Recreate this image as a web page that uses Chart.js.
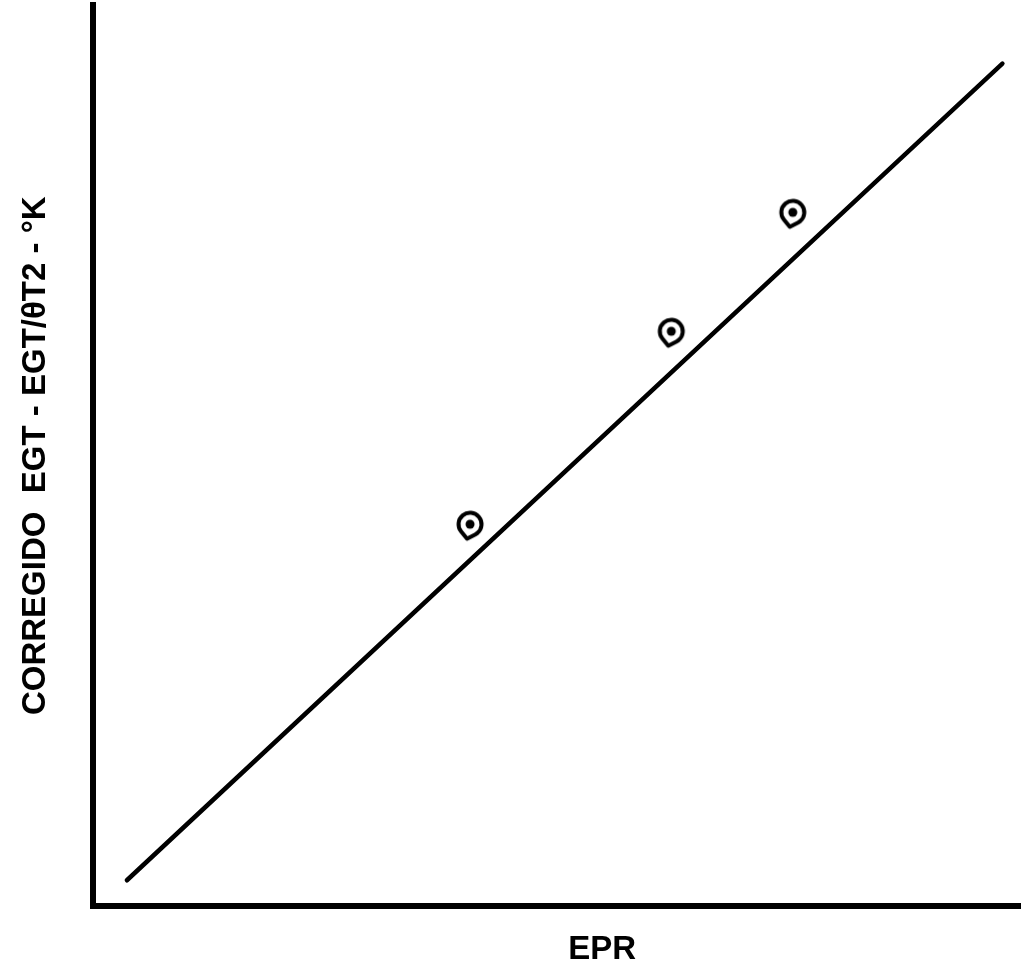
<!DOCTYPE html>
<html>
<head>
<meta charset="utf-8">
<script src="https://cdn.jsdelivr.net/npm/chart.js@4/dist/chart.umd.min.js"></script>
<style>
  html, body { margin: 0; padding: 0; background: #fff; }
  #chart { display: block; }
</style>
</head>
<body>
<canvas id="chart" width="1025" height="972"></canvas>
<script>
// Recta de ajuste (extremos) y puntos medidos
const lineX = [0.37, 9.81];
const lineY = [0.29, 9.35];
const pointX = [4.07, 6.24, 7.55];
const pointY = [4.24, 6.38, 7.70];

const xTitle = '          EPR';
const yTitle = 'CORREGIDO  EGT - EGT/\u03B8T2 - \u00B0K';

function toXY(xs, ys) {
  return xs.map((x, i) => ({ x: x, y: ys[i] }));
}

// Marcador: anillo en forma de gota con un punto en el centro
function makeMarker() {
  const c = document.createElement('canvas');
  c.width = 48;
  c.height = 48;
  const g = c.getContext('2d');
  const cx = 24, cy = 24, r = 11.5;
  const tx = cx - 3, ty = cy + 14.5;
  const tipAng = Math.atan2(ty - cy, tx - cx);
  const a = Math.acos(r / Math.hypot(tx - cx, ty - cy));
  g.beginPath();
  g.arc(cx, cy, r, tipAng + a, tipAng - a + Math.PI * 2);
  g.lineTo(tx, ty);
  g.closePath();
  g.fillStyle = '#fff';
  g.fill();
  g.lineWidth = 4;
  g.lineJoin = 'round';
  g.strokeStyle = '#000';
  g.stroke();
  g.beginPath();
  g.arc(cx, cy, 4.5, 0, Math.PI * 2);
  g.fillStyle = '#000';
  g.fill();
  return c;
}

const fontTitle = { family: '"Liberation Sans", Arial, sans-serif', size: 33, weight: 'bold' };

new Chart(document.getElementById('chart'), {
  type: 'scatter',
  data: {
    datasets: [
      {
        data: toXY(pointX, pointY),
        pointStyle: makeMarker(),
        order: 0
      },
      {
        data: toXY(lineX, lineY),
        showLine: true,
        borderColor: '#000',
        borderWidth: 4.5,
        borderCapStyle: 'round',
        pointRadius: 0,
        order: 1
      }
    ]
  },
  options: {
    responsive: false,
    animation: false,
    layout: { padding: { left: 6, top: 3, right: 0, bottom: 0 } },
    plugins: { legend: { display: false }, tooltip: { enabled: false } },
    scales: {
      x: {
        min: 0,
        max: 10,
        grid: { display: false },
        ticks: { display: false },
        border: { display: true, color: '#000', width: 6 },
        title: { display: true, text: xTitle, color: '#000', font: fontTitle, padding: { top: 16, bottom: 2 } }
      },
      y: {
        min: 0,
        max: 10,
        grid: { display: false },
        ticks: { display: false },
        border: { display: true, color: '#000', width: 6 },
        title: { display: true, text: yTitle, color: '#000', font: fontTitle, padding: { top: 10, bottom: 29 } }
      }
    }
  }
});
</script>
</body>
</html>
